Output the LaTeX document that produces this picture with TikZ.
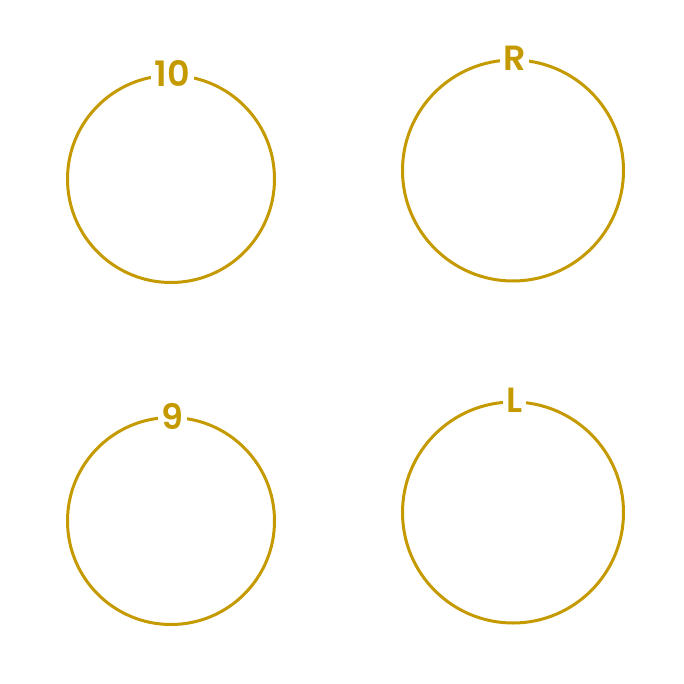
\documentclass[tikz,border=0pt]{standalone}
\usepackage{fontspec}
\setmainfont{Poppins}
\newfontfamily\tagfont{Poppins SemiBold}
\usepackage{tikz}
\definecolor{gold}{HTML}{C49A00}

\begin{document}
\begin{tikzpicture}[
    x=1pt, y=-1pt,
    ring/.style={
        circle, draw=gold, line width=3pt, inner sep=0pt
    },
    tag/.style={
        fill=white, text=gold, inner sep=3.5pt, xshift=1.5pt,
        font=\tagfont\fontsize{35}{35}\selectfont
    }
]
\useasboundingbox (0,0) rectangle (684,684);

\node[ring, minimum size=207] (ten)  at (171,179) {};
\node[ring, minimum size=221] (right) at (513,170.5) {};
\node[ring, minimum size=207] (nine) at (171,521) {};
\node[ring, minimum size=221] (left) at (513,512.5) {};

\node[tag] (tenlabel)   at (ten.north)   {10};
\node[tag] (rightlabel) at (right.north) {R};
\node[tag] (ninelabel)  at (nine.north)  {9};
\node[tag] (leftlabel)  at (left.north)  {L};
\end{tikzpicture}
\end{document}
